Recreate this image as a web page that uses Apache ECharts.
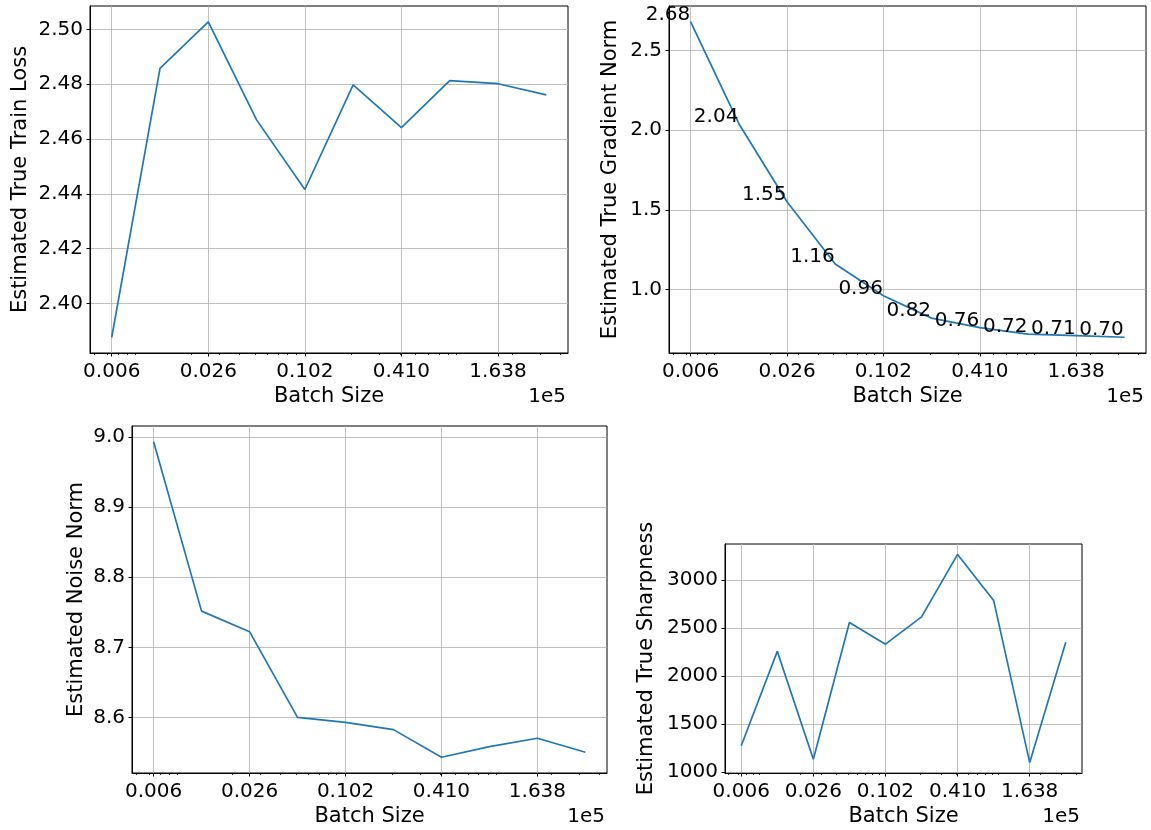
<!DOCTYPE html>
<html><head><meta charset="utf-8">
<script src="https://cdn.jsdelivr.net/npm/echarts@6/dist/echarts.min.js"></script>
<style>html,body{margin:0;padding:0;background:#fff}#c{width:1151px;height:830px}</style>
</head><body><div id="c"></div>
<script>
// ---- data ----
const batchSizes = [640, 1280, 2560, 5120, 10240, 20480, 40960, 81920, 163840, 327680];
const xMajorTicks = [640, 2560, 10240, 40960, 163840];
const xMinorTicks = [500, 600, 700, 800, 900,
  2000, 3000, 4000, 5000, 6000, 7000, 8000, 9000,
  20000, 30000, 40000, 50000, 60000, 70000, 80000, 90000,
  200000, 300000, 400000];
const trainLoss = [2.3877, 2.4858, 2.5028, 2.4670, 2.4416, 2.4798, 2.4642, 2.4813, 2.4802, 2.4761];
const gradNorm  = [2.68, 2.04, 1.55, 1.16, 0.96, 0.82, 0.76, 0.72, 0.71, 0.70];
const noiseNorm = [8.993, 8.7518, 8.7225, 8.6005, 8.5934, 8.583, 8.5437, 8.5589, 8.5707, 8.5508];
const sharpness = [1274, 2257, 1134, 2558, 2332, 2616, 3267, 2788, 1099, 2353];
const lossTicks  = [2.40, 2.42, 2.44, 2.46, 2.48, 2.50];
const gradTicks  = [1.0, 1.5, 2.0, 2.5];
const noiseTicks = [8.6, 8.7, 8.8, 8.9, 9.0];
const sharpTicks = [1000, 1500, 2000, 2500, 3000];
const xName = 'Batch Size';
const offsetText = '1e5';

// ---- layout / style ----
const FONT = 'DejaVu Sans';
const FS = 20;
const NFS = 21;
const panels = [
  {grid:{left:90, top:6, width:478, height:347}, y:trainLoss, ticks:lossTicks, dec:2, name:'Estimated True Train Loss', gap:58.5, labels:false},
  {grid:{left:669, top:6, width:477, height:347}, y:gradNorm, ticks:gradTicks, dec:1, name:'Estimated True Gradient Norm', gap:47.5, labels:true},
  {grid:{left:132, top:426, width:475, height:347}, y:noiseNorm, ticks:noiseTicks, dec:1, name:'Estimated Noise Norm', gap:45, labels:false},
  {grid:{left:725, top:544, width:357, height:229}, y:sharpness, ticks:sharpTicks, dec:0, name:'Estimated True Sharpness', gap:67.5, labels:false}
];

const l0 = Math.log10(batchSizes[0]), l1 = Math.log10(batchSizes[batchSizes.length-1]);
const xMin = Math.pow(10, l0 - 0.05*(l1-l0));
const xMax = Math.pow(10, l1 + 0.05*(l1-l0));

const grids = [], xAxes = [], yAxes = [], series = [], graphics = [];
panels.forEach((p, i) => {
  grids.push(Object.assign({show:true, borderColor:'#000', borderWidth:1, backgroundColor:'transparent'}, p.grid));
  // major x axis
  xAxes.push({
    type:'log', logBase:10, gridIndex:i, min:xMin, max:xMax,
    name:xName, nameLocation:'middle', nameGap:33, nameMoveOverlap:false,
    nameTextStyle:{fontFamily:FONT, fontSize:NFS, color:'#000'},
    axisLine:{show:true, lineStyle:{color:'#000', width:1}},
    axisTick:{show:true, customValues:xMajorTicks, length:3.5, lineStyle:{color:'#000', width:1}},
    minorTick:{show:false},
    axisLabel:{show:true, customValues:xMajorTicks, margin:9, fontFamily:FONT, fontSize:FS, color:'#000',
      formatter:v => (v/1e5).toFixed(3)},
    splitLine:{show:true, lineStyle:{color:'#b0b0b0', width:0.8}}
  });
  // minor x ticks
  xAxes.push({
    type:'log', logBase:10, gridIndex:i, min:xMin, max:xMax, position:'bottom',
    axisLine:{show:false},
    axisTick:{show:true, customValues:xMinorTicks, length:2, lineStyle:{color:'#000', width:0.8}},
    axisLabel:{show:false},
    splitLine:{show:false}
  });
  const ymn = Math.min(...p.y), ymx = Math.max(...p.y), r = ymx - ymn;
  yAxes.push({
    type:'value', gridIndex:i, min:ymn - 0.05*r, max:ymx + 0.05*r,
    name:p.name, nameLocation:'middle', nameGap:p.gap, nameRotate:90, nameMoveOverlap:false,
    nameTextStyle:{fontFamily:FONT, fontSize:NFS, color:'#000'},
    axisLine:{show:true, lineStyle:{color:'#000', width:1}},
    axisTick:{show:true, customValues:p.ticks, length:3.5, lineStyle:{color:'#000', width:1}},
    axisLabel:{show:true, customValues:p.ticks, margin:7, fontFamily:FONT, fontSize:FS, color:'#000',
      formatter:v => v.toFixed(p.dec)},
    splitLine:{show:true, lineStyle:{color:'#b0b0b0', width:0.8}}
  });
  const s = {
    type:'line', xAxisIndex:2*i, yAxisIndex:i,
    data: batchSizes.map((b, k) => [b, p.y[k]]),
    lineStyle:{color:'#1f77b4', width:1.7},
    itemStyle:{color:'#1f77b4'},
    symbol:'circle', symbolSize:1, showSymbol:p.labels, smooth:false, animation:false
  };
  if (p.labels) {
    s.label = {show:true, position:'left', distance:0, offset:[0,-7],
      formatter: q => q.value[1].toFixed(2),
      fontFamily:FONT, fontSize:FS, color:'#000'};
  }
  series.push(s);
  graphics.push({type:'text', style:{
    text:offsetText, x:p.grid.left + p.grid.width - 2, y:p.grid.top + p.grid.height + 34,
    align:'right', verticalAlign:'top', font:FS + 'px "' + FONT + '"', fill:'#000'}});
});

const chart = echarts.init(document.getElementById('c'), null, {renderer:'canvas'});
chart.setOption({
  animation:false,
  backgroundColor:'#fff',
  grid:grids, xAxis:xAxes, yAxis:yAxes, series:series,
  graphic:graphics
});
</script></body></html>
